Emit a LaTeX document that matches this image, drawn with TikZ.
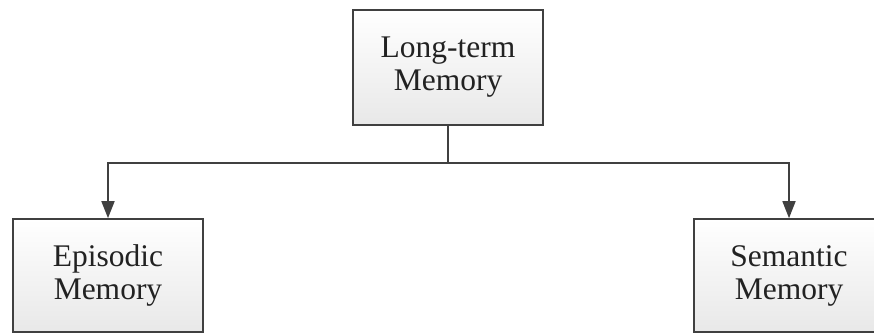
\documentclass[tikz,border=0pt]{standalone}
\usepackage{fontspec}
\setmainfont{Liberation Serif}
\usetikzlibrary{arrows.meta}

\definecolor{edge}{HTML}{404040}
\definecolor{ink}{HTML}{222222}

\tikzset{
  memorybox/.style={draw=edge, line width=1.6pt, top color=white, bottom color=black!9,
    minimum width=190pt, inner sep=0pt, align=center, text=ink,
    font=\fontsize{31.5}{33}\selectfont},
  link/.style={draw=edge, line width=1.6pt},
  linkarrow/.style={link, -{Triangle[length=17pt,width=13pt]}}
}

\begin{document}
\begin{tikzpicture}[x=1pt, y=-1pt]
  \useasboundingbox (0,0) rectangle (874,334);

  % parent concept
  \node[memorybox, minimum height=115pt] (ltm) at (448,67.5) {Long-term\\Memory};

  % the two kinds of long-term memory
  \node[memorybox, minimum height=113pt] (epi) at (108,275.5) {Episodic\\Memory};
  \node[memorybox, minimum height=113pt] (sem) at (789,275.5) {Semantic\\Memory};

  % branching point below the parent box
  \coordinate (split) at (448,163);

  \draw[link] (ltm.south) -- (split);
  \draw[linkarrow] (split) -| (epi.north);
  \draw[linkarrow] (split) -| (sem.north);
\end{tikzpicture}
\end{document}
